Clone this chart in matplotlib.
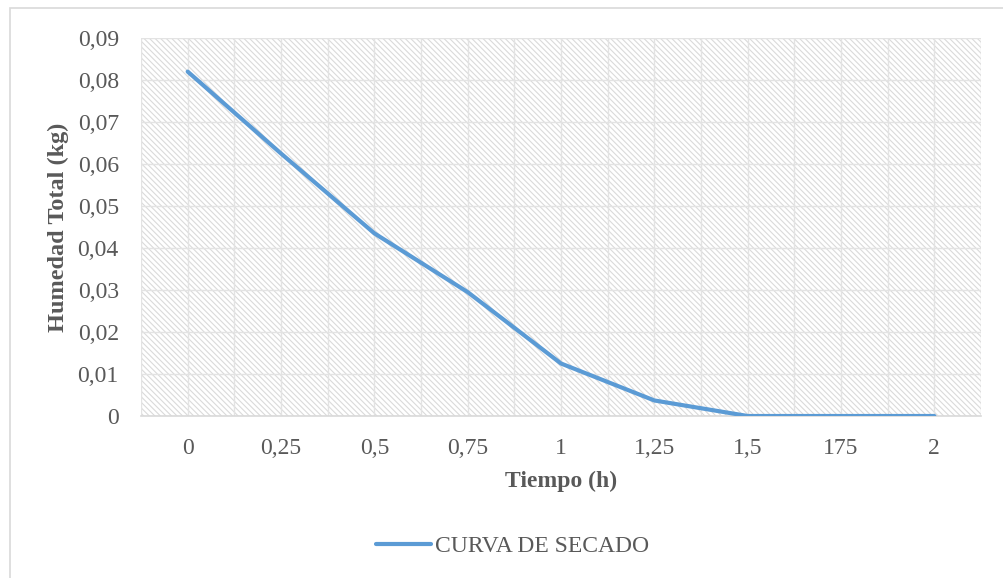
import numpy as np
import matplotlib
matplotlib.use('Agg')
import matplotlib.pyplot as plt
from matplotlib.patches import Rectangle

# datos de la curva de secado
tiempo_labels = ['0', '0,25', '0,5', '0,75', '1', '1,25', '1,5', '175', '2']
humedad = [0.082, 0.0625, 0.0435, 0.0295, 0.0125, 0.0037, 0.0, 0.0, 0.0]
y_ticks = [0, 0.01, 0.02, 0.03, 0.04, 0.05, 0.06, 0.07, 0.08, 0.09]
y_labels = ['0', '0,01', '0,02', '0,03', '0,04', '0,05', '0,06', '0,07', '0,08', '0,09']

plt.rcParams['font.family'] = ['Liberation Serif', 'DejaVu Serif']
plt.rcParams['hatch.linewidth'] = 0.8
texto = '#595959'
rejilla = '#d9d9d9'

fig = plt.figure(figsize=(10.04, 5.78), dpi=100)
ax = fig.add_axes([141 / 1004, 1 - 416 / 578, 840 / 1004, 378 / 578])

# marco exterior del grafico
fig.patches.append(Rectangle((10 / 1004, -0.05), 1.1, 1 - 8 / 578 + 0.05,
                             transform=fig.transFigure, fill=False,
                             edgecolor=rejilla, linewidth=1.2))

# fondo rayado del area de trazado
ax.add_patch(Rectangle((0, 0), 1, 1, transform=ax.transAxes,
                       facecolor='white', edgecolor='#dadada', hatch='\\' * 6,
                       linewidth=0, zorder=0))

x = np.arange(len(tiempo_labels))
ax.plot(x, humedad, color='#5B9BD5', linewidth=3.0, solid_capstyle='round',
        solid_joinstyle='round', label='CURVA DE SECADO', zorder=3)

ax.set_xlim(-0.5, len(tiempo_labels) - 0.5)
ax.set_ylim(0, 0.09)
ax.set_xticks(x)
ax.set_xticklabels(tiempo_labels)
ax.set_xticks(np.arange(-0.5, len(tiempo_labels), 1.0), minor=True)
ax.set_yticks(y_ticks)
ax.set_yticklabels(y_labels)

ax.grid(True, which='both', axis='x', color='#e3e3e3', linewidth=1.0, zorder=1)
ax.grid(True, which='major', axis='y', color='#e3e3e3', linewidth=1.0, zorder=1)
ax.set_axisbelow(True)

for s in ['top', 'right', 'left']:
    ax.spines[s].set_visible(False)
ax.spines['bottom'].set_color(rejilla)
ax.spines['bottom'].set_linewidth(1.2)

ax.tick_params(axis='both', which='both', length=0, labelsize=17, labelcolor=texto)
ax.tick_params(axis='y', pad=16)
ax.tick_params(axis='x', pad=16)

ax.set_xlabel('Tiempo (h)', fontsize=17, fontweight='bold', color=texto)
ax.set_ylabel('Humedad Total (kg)', fontsize=17.5, fontweight='bold', color=texto)
ax.xaxis.set_label_coords(0.5, -0.145)
ax.yaxis.set_label_coords(-0.086, 0.5)

fig.legend(loc='center', bbox_to_anchor=(513 / 1004, 1 - 546 / 578), frameon=False,
           fontsize=17, labelcolor=texto, handlelength=2.3, handletextpad=0.2)

fig.savefig('out.png', dpi=100)
